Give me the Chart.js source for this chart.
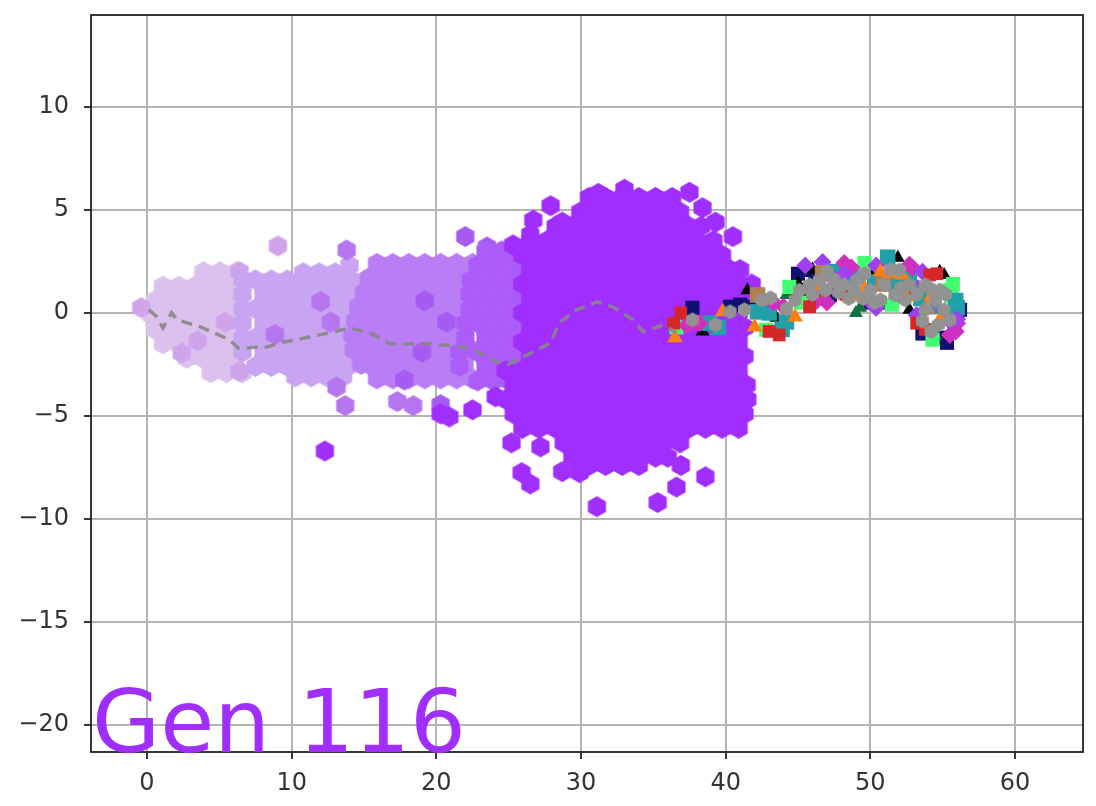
<!DOCTYPE html>
<html>
<head>
<meta charset="utf-8">
<script src="https://cdn.jsdelivr.net/npm/chart.js@4"></script>
<style>
  body { margin: 0; background: #fff; }
  canvas { display: block; filter: blur(0.6px); }
</style>
</head>
<body>
<canvas id="scatterChart" width="1096" height="806"></canvas>
<script>
var xTicksMin = -3.87, xTicksMax = 64.7
var yTicksMin = -21.3, yTicksMax = 14.45

// rows of the swarm: [y, [x, x, ...]]
var gen1Rows = [
  [2.0, [3.9, 5.05, 6.2]],
  [1.3, [1.1, 2.2, 3.3, 4.4, 5.5, 6.6]],
  [0.6, [0.55, 1.65, 2.75, 3.85, 4.95, 6.05]],
  [-0.1, [0.3, 1.1, 2.2, 3.3, 4.4, 5.5, 6.6]],
  [-0.8, [0.55, 1.65, 2.75, 3.85, 4.95, 6.05]],
  [-1.5, [1.1, 2.2, 3.3, 4.4, 5.5, 6.6]],
  [-2.2, [2.75, 3.85, 4.95, 6.05]],
  [-2.9, [4.4, 5.5, 6.6]]
]
var gen2Rows = [
  [2.3, [14.0]],
  [1.95, [10.8, 11.9, 13.0]],
  [1.6, [6.6, 7.5, 8.6, 9.7, 10.8, 11.9, 13.0, 14.1, 15.2]],
  [0.9, [6.6, 8.05, 9.15, 10.25, 11.35, 12.45, 13.55, 14.65]],
  [0.2, [6.6, 7.5, 8.6, 9.7, 10.8, 11.9, 13.0, 14.1]],
  [-0.5, [6.6, 8.05, 9.15, 10.25, 11.35, 12.45, 13.55, 14.65]],
  [-1.2, [6.6, 7.5, 8.6, 9.7, 10.8, 11.9, 13.0, 14.1]],
  [-1.9, [6.6, 8.05, 9.15, 10.25, 11.35, 12.45, 13.55]],
  [-2.6, [7.5, 8.6, 9.7, 10.8, 11.9, 13.0, 13.9]],
  [-3.1, [10.25, 11.35, 12.45, 13.55]]
]
var gen3Rows = [
  [2.4, [15.9, 17.0, 18.1, 19.2, 20.3, 21.4, 22.5]],
  [1.7, [15.35, 16.45, 17.55, 18.65, 19.75, 20.85, 21.95, 23.05]],
  [1.0, [15.0, 15.9, 17.0, 18.1, 19.2, 20.3, 21.4, 22.5]],
  [0.3, [14.6, 15.35, 16.45, 17.55, 18.65, 19.75, 20.85, 21.95]],
  [-0.4, [14.4, 15.9, 15.0, 17.0, 18.1, 19.2, 20.3, 21.4, 22.5]],
  [-1.1, [14.2, 15.35, 16.45, 17.55, 18.65, 19.75, 20.85, 21.95]],
  [-1.8, [14.3, 15.9, 15.0, 17.0, 18.1, 19.2, 20.3, 21.4, 22.5]],
  [-2.5, [14.8, 15.35, 16.45, 17.55, 18.65, 19.75, 20.85, 21.95]],
  [-3.2, [15.9, 17.0, 18.1, 19.2, 20.3, 21.4, 22.5]]
]
var gen4Rows = [
  [3.0, [23.4, 24.5, 25.6]],
  [2.3, [22.85, 23.95, 25.05, 26.15, 27.25]],
  [1.6, [22.4, 23.4, 24.5, 25.6, 26.7]],
  [0.9, [22.3, 22.85, 23.95, 25.05, 26.15, 27.25]],
  [0.2, [22.3, 23.4, 24.5, 25.6, 26.7]],
  [-0.5, [22.0, 22.85, 23.95, 25.05, 26.15, 27.25]],
  [-1.2, [22.0, 23.4, 24.5, 25.6, 26.7]],
  [-1.9, [21.6, 22.85, 23.95, 25.05, 26.15, 27.25]],
  [-2.6, [21.6, 23.4, 24.5, 25.6, 26.7]],
  [-3.3, [22.85, 23.95, 25.05, 26.15, 27.25]]
]
var gen5Rows = [
  [5.6, [30.55, 31.7, 32.85, 34.0, 35.15, 36.3]],
  [4.9, [29.95, 31.1, 32.25, 33.4, 34.55, 35.7, 36.85]],
  [4.2, [28.25, 29.4, 30.55, 31.7, 32.85, 34.0, 35.15, 36.3, 37.45, 38.3]],
  [3.5, [26.5, 27.65, 28.8, 29.95, 31.1, 32.25, 33.4, 34.55, 35.7, 36.85, 38.0, 39.15]],
  [2.8, [25.95, 27.1, 28.25, 29.4, 30.55, 31.7, 32.85, 34.0, 35.15, 36.3, 37.45, 38.6, 39.75]],
  [2.1, [26.5, 27.65, 28.8, 29.95, 31.1, 32.25, 33.4, 34.55, 35.7, 36.85, 38.0, 39.15, 40.3, 41.0]],
  [1.4, [25.95, 27.1, 28.25, 29.4, 30.55, 31.7, 32.85, 34.0, 35.15, 36.3, 37.45, 38.6, 39.75, 40.9, 41.8]],
  [0.7, [26.5, 27.65, 28.8, 29.95, 31.1, 32.25, 33.4, 34.55, 35.7, 36.85, 38.0, 39.15, 40.3, 41.3]],
  [0.0, [25.95, 27.1, 28.25, 29.4, 30.55, 31.7, 32.85, 34.0, 35.15, 36.3, 37.45, 38.6, 39.75, 40.9]],
  [-0.7, [26.5, 27.65, 28.8, 29.95, 31.1, 32.25, 33.4, 34.55, 35.7, 36.85, 38.0, 39.15, 40.3, 41.3]],
  [-1.4, [25.95, 27.1, 28.25, 29.4, 30.55, 31.7, 32.85, 34.0, 35.15, 36.3, 37.45, 38.6, 39.75, 40.9]],
  [-2.1, [26.5, 27.65, 28.8, 29.95, 31.1, 32.25, 33.4, 34.55, 35.7, 36.85, 38.0, 39.15, 40.3, 41.3]],
  [-2.8, [24.8, 25.95, 27.1, 28.25, 29.4, 30.55, 31.7, 32.85, 34.0, 35.15, 36.3, 37.45, 38.6, 39.75, 40.9]],
  [-3.5, [25.35, 26.5, 27.65, 28.8, 29.95, 31.1, 32.25, 33.4, 34.55, 35.7, 36.85, 38.0, 39.15, 40.3, 41.45]],
  [-4.2, [24.8, 25.95, 27.1, 28.25, 29.4, 30.55, 31.7, 32.85, 34.0, 35.15, 36.3, 37.45, 38.6, 39.75, 40.9, 41.5]],
  [-4.9, [25.35, 26.5, 27.65, 28.8, 29.95, 31.1, 32.25, 33.4, 34.55, 35.7, 36.85, 38.0, 39.15, 40.3, 41.3]],
  [-5.6, [25.95, 27.1, 28.25, 29.4, 30.55, 31.7, 32.85, 34.0, 35.15, 36.3, 37.45, 38.6, 39.75, 40.9]],
  [-6.3, [28.8, 29.95, 31.1, 32.25, 33.4, 34.55, 35.7, 36.85]],
  [-7.0, [29.4, 30.55, 31.7, 32.85, 34.0, 35.15, 36.0]],
  [-7.4, [30.55, 31.7, 32.85, 34.0]]
]

// stray hexagons, [x, y]
var stray1 = [[9.05, 3.25], [6.4, 2.0], [5.4, -0.45], [3.5, -1.35], [6.4, -2.85], [2.4, -1.95], [-0.4, 0.25]]
var stray2 = [[13.8, 3.05], [12.0, 0.55], [12.7, -0.45], [8.85, -1.05], [13.1, -3.6], [13.7, -4.5], [17.3, -4.3], [18.4, -4.5]]
var stray3 = [[19.2, 0.58], [19.0, -1.9], [20.7, -0.45], [17.8, -3.25], [20.3, -4.45], [22.0, 3.7], [23.5, 3.2]]
var stray5 = [[31.1, -9.4], [35.3, -9.2], [36.6, -8.45], [38.6, -7.95], [36.9, -7.4], [25.9, -7.75], [26.5, -8.3],
  [25.2, -6.3], [27.2, -6.5], [28.7, -7.7], [29.9, -7.75], [12.3, -6.7], [22.5, -4.7], [20.3, -4.9], [20.9, -5.05],
  [24.1, -4.07], [37.5, 5.85], [38.4, 5.1], [39.3, 4.4], [40.5, 3.7], [27.9, 5.2], [26.7, 4.5], [28.7, 4.4],
  [26.5, 3.8], [25.3, 3.3], [31.2, 5.8], [33.0, 6.0]]

// the small multi colour swarm on the right
var orangeMarks = [[36.5, -1.2], [39.8, 0.05], [42.0, -0.68], [44.8, -0.2], [48.9, 0.78], [50.7, 2.0], [52.2, 1.84], [52.5, 0.78], [54.2, 0.78],
  [46.1, 1.3], [47.7, 1.5], [49.6, 1.2], [51.4, 1.9], [53.9, 0.2], [54.9, -0.2]]
var redMarks = [[36.4, -0.5], [36.9, 0.0], [43.7, -1.07], [46.7, 1.1], [53.2, -0.5], [54.1, 1.84], [45.8, 0.3], [48.3, 0.9], [54.6, 1.9], [53.8, -0.8], [43.0, -0.9]]
var magentaMarks = [[37.7, -0.5], [38.2, -0.5], [37.3, -0.6], [43.3, 0.5], [46.3, 0.63], [48.2, 2.42], [52.7, 2.33], [56.0, -0.5], [55.5, -1.07], [46.0, 0.4], [48.7, 2.2], [52.9, 2.2], [55.9, -0.9], [47.0, 0.5], [44.0, 0.3]]
var navyMarks = [[37.7, 0.25], [41.0, 0.4], [45.6, 2.08], [47.2, 0.87], [56.2, 0.15], [53.6, -1.0], [55.3, -1.45], [45.0, 1.9], [46.2, 1.8], [49.8, 0.5], [55.8, -0.1], [54.7, -1.2], [41.8, 0.3], [40.3, 0.3]]
var blackMarks = [[38.4, -0.9], [43.5, -0.24], [45.0, 1.45], [51.9, 2.67], [52.7, 0.15], [55.1, 1.84], [41.5, 1.1], [46.0, 2.1], [52.9, 1.0], [53.4, -0.3], [54.8, 2.0], [45.5, 0.9], [50.2, 1.9]]
var tealMarks = [[39.5, -0.7], [38.9, -0.5], [42.2, 0.05], [44.2, -0.44], [48.6, 1.75], [51.2, 2.7], [51.8, 1.45], [56.0, 0.25], [47.5, 2.0], [50.3, 1.5], [52.7, 1.7], [55.9, 0.6], [53.5, 0.7], [43.0, 0.0], [43.9, -0.8]]
var greenMarks = [[36.6, -0.7], [42.8, -0.82], [44.4, 1.26], [49.6, 2.42], [55.5, 1.1], [54.3, -1.3], [45.2, 0.5], [49.4, 2.0], [55.6, 0.8], [55.7, 1.4], [51.5, 0.4]]
var darkGreenMarks = [[42.5, 0.1], [44.2, 0.87], [48.0, 0.87], [49.3, 0.25], [49.0, 0.0], [51.2, 0.35], [54.5, -1.1], [44.8, 1.0]]
var brownMarks = [[42.2, 0.87], [46.7, 1.94], [50.9, 1.4]]
var purpleMarks = [[46.7, 2.47], [50.4, 0.25], [47.5, 1.6], [52.0, 0.9], [53.3, 1.2], [55.5, -0.4], [45.5, 2.3], [48.2, 1.9], [49.9, 0.6], [53.2, -0.1], [56.0, -0.3], [53.6, 2.0], [50.4, 2.3]]
var slateMarks = [[53.2, 1.1], [54.5, 0.2]]
var grayMarks = [[37.7, -0.34], [39.3, -0.58], [40.3, 0.05], [41.3, 0.15], [42.5, 0.63], [43.1, 0.73], [44.8, 0.63],
  [45.8, 1.36], [46.9, 1.1], [47.5, 1.6], [48.2, 1.36], [49.1, 1.6], [50.0, 1.1], [51.0, 1.36], [51.7, 0.87],
  [52.0, 2.08], [52.7, 1.36], [53.8, 1.36], [54.5, 0.63], [54.8, 1.1], [55.1, 0.15], [54.7, -0.58], [53.8, 0.15],
  [55.5, -0.34], [50.7, 0.63], [48.9, 1.1], [46.5, 1.6], [45.1, 1.1], [52.4, 0.63], [44.2, 0.2], [46.0, 0.9],
  [47.0, 2.0], [48.5, 0.7], [49.6, 1.9], [50.3, 0.5], [51.4, 2.1], [53.2, 0.9], [53.6, -0.4], [54.2, -0.9],
  [55.2, 0.9], [54.1, 1.2], [52.1, 1.2], [47.8, 1.0], [49.5, 0.7]]

// dashed path
var pathX = [0.14, 0.7, 1.1, 1.7, 2.1, 3.7, 5.7, 6.3, 8.3, 9.2, 11.3, 12.9, 14.0, 15.4, 16.8, 19.8, 22.3, 24.2, 24.9, 26.7, 27.9, 28.5, 29.7, 31.1, 32.2, 33.6, 34.3, 35.7, 36.6]
var pathY = [0.15, -0.2, -0.73, 0.0, -0.34, -0.68, -1.3, -1.7, -1.65, -1.45, -1.16, -0.92, -0.73, -0.97, -1.5, -1.5, -1.7, -2.37, -2.52, -1.89, -1.45, -0.48, 0.15, 0.53, 0.29, -0.34, -0.92, -0.58, -0.97]

var xTickValues = [0, 10, 20, 30, 40, 50, 60]
var yTickValues = [-20, -15, -10, -5, 0, 5, 10]
var genLabel = 'Gen 116'

// six sided marker, Chart.js has none of its own
function hexagon(color, r) {
    var c = document.createElement('canvas')
    c.width = c.height = Math.ceil(r * 2) + 2
    var ctx = c.getContext('2d')
    ctx.fillStyle = color
    ctx.beginPath()
    for (var i = 0; i < 6; i++) {
        var a = Math.PI / 6 + i * Math.PI / 3
        ctx.lineTo(c.width / 2 + r * Math.cos(a), c.height / 2 + r * Math.sin(a))
    }
    ctx.closePath()
    ctx.fill()
    return c
}

function rowsToPoints(rows) {
    var pts = []
    rows.forEach(function (row) {
        row[1].forEach(function (x) { pts.push({ x: x, y: row[0] }) })
    })
    return pts
}

function pairsToPoints(pairs) {
    return pairs.map(function (p) { return { x: p[0], y: p[1] } })
}

function hexSet(points, color, r) {
    return { type: 'scatter', data: points, pointStyle: hexagon(color, r || 10.5), pointRadius: 10, showLine: false }
}

function markSet(pairs, color, style, radius) {
    return { type: 'scatter', data: pairsToPoints(pairs), pointStyle: style, pointRadius: radius, backgroundColor: color, borderColor: color, borderWidth: 0, showLine: false }
}

// listed bottom layer first, order is turned round below
var layers = [
    hexSet(rowsToPoints(gen1Rows), '#dcc1ef'),
    hexSet(pairsToPoints(stray1), '#cfa4ea'),
    hexSet(rowsToPoints(gen2Rows), '#c9a4f2'),
    hexSet(pairsToPoints(stray2), '#b676f0'),
    hexSet(rowsToPoints(gen3Rows), '#b97ef5'),
    hexSet(pairsToPoints(stray3), '#a65cf2'),
    hexSet(rowsToPoints(gen4Rows), '#ab5cf9'),
    hexSet(rowsToPoints(gen5Rows), '#a02fff'),
    hexSet(pairsToPoints(stray5), '#a02fff'),
    markSet(navyMarks, '#101070', 'rect', 10),
    markSet(blackMarks, '#000000', 'triangle', 8),
    markSet(darkGreenMarks, '#107040', 'triangle', 8),
    markSet(greenMarks, '#40ff70', 'rect', 10),
    markSet(tealMarks, '#20a0a8', 'rect', 11),
    markSet(magentaMarks, '#d030c0', 'rectRot', 9),
    markSet(purpleMarks, '#a040f0', 'rectRot', 9),
    markSet(redMarks, '#d62728', 'rect', 9),
    markSet(brownMarks, '#b08050', 'rect', 11),
    markSet(slateMarks, '#6080b0', 'rect', 8),
    markSet(orangeMarks, '#ff7f0e', 'triangle', 9),
    hexSet(pairsToPoints(grayMarks), '#929292', 7.5),
    {
        type: 'line',
        data: pathX.map(function (x, i) { return { x: x, y: pathY[i] } }),
        borderColor: 'rgba(135,135,135,0.9)',
        borderWidth: 3.5,
        borderDash: [11, 7],
        pointRadius: 0,
        tension: 0,
        fill: false
    }
]
layers.forEach(function (d, i) { d.order = layers.length - i })

// frame and big label on top of everything
var framePlugin = {
    id: 'frame',
    afterDatasetsDraw: function (chart) {
        var a = chart.chartArea, ctx = chart.ctx
        ctx.save()
        ctx.strokeStyle = '#222'
        ctx.lineWidth = 1.8
        ctx.strokeRect(a.left, a.top, a.right - a.left, a.bottom - a.top)
        ctx.fillStyle = '#a02fff'
        ctx.font = '88px "DejaVu Sans"'
        ctx.textBaseline = 'alphabetic'
        ctx.fillText(genLabel, a.left + 1, a.bottom)
        ctx.restore()
    }
}

function tickText(v) {
    return String(v).replace('-', '\u2212')
}

new Chart(document.getElementById('scatterChart').getContext('2d'), {
    data: { datasets: layers },
    plugins: [framePlugin],
    options: {
        responsive: false,
        animation: false,
        events: [],
        layout: { padding: { top: 15, right: 13, left: 0, bottom: 0 } },
        plugins: { legend: { display: false }, tooltip: { enabled: false } },
        scales: {
            x: {
                type: 'linear',
                min: xTicksMin,
                max: xTicksMax,
                afterFit: function (s) { s.height = 54; s.paddingLeft = 0; s.paddingRight = 0 },
                afterBuildTicks: function (s) { s.ticks = xTickValues.map(function (v) { return { value: v } }) },
                grid: { color: '#b4b4b4', lineWidth: 2, tickColor: '#222', tickLength: 7, tickWidth: 1.8 },
                border: { display: false },
                ticks: { color: '#333', font: { family: 'DejaVu Sans', size: 24 }, padding: 10, maxRotation: 0, autoSkip: false, callback: tickText }
            },
            y: {
                type: 'linear',
                min: yTicksMin,
                max: yTicksMax,
                afterFit: function (s) { s.width = 91; s.paddingTop = 0; s.paddingBottom = 0 },
                afterBuildTicks: function (s) { s.ticks = yTickValues.map(function (v) { return { value: v } }) },
                grid: { color: '#b4b4b4', lineWidth: 2, tickColor: '#222', tickLength: 7, tickWidth: 1.8 },
                border: { display: false },
                ticks: { color: '#333', font: { family: 'DejaVu Sans', size: 24 }, padding: 15, autoSkip: false, callback: tickText }
            }
        }
    }
})
</script>
</body>
</html>
